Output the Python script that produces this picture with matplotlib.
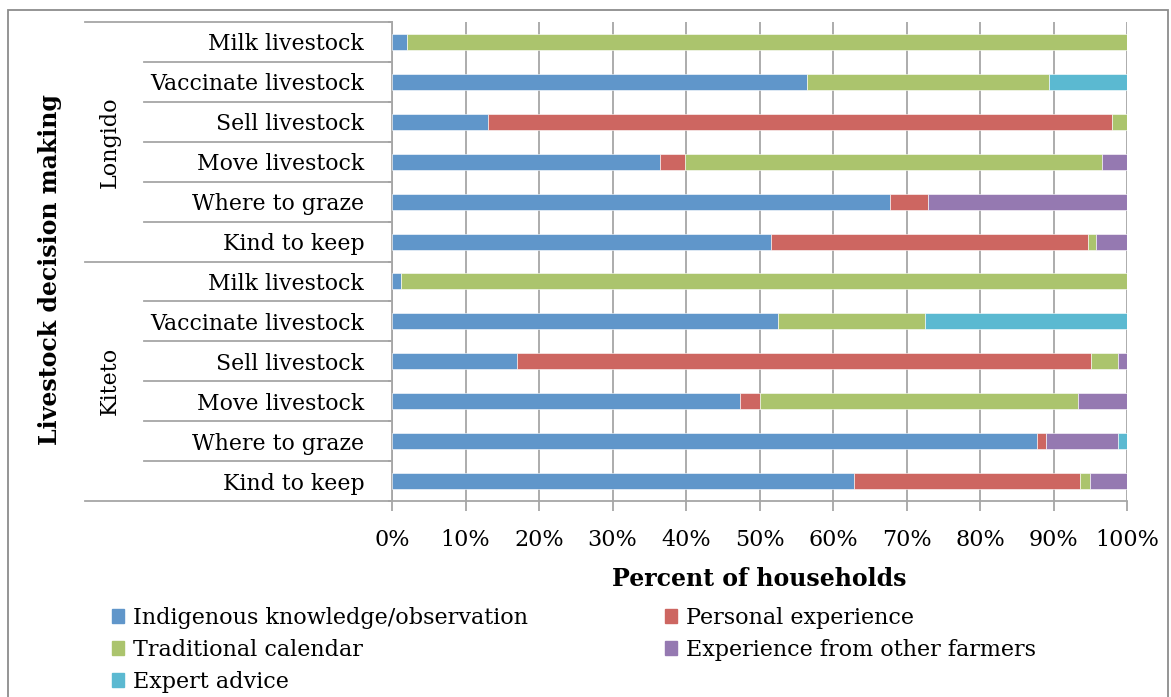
import numpy as np
import matplotlib
matplotlib.use("Agg")
import matplotlib.pyplot as plt
from matplotlib.patches import Patch, Rectangle

# category rows, top to bottom
groups = ["Longido", "Kiteto"]
decisions = ["Milk livestock", "Vaccinate livestock", "Sell livestock",
             "Move livestock", "Where to graze", "Kind to keep"]

series = ["Indigenous knowledge/observation", "Personal experience",
          "Traditional calendar", "Experience from other farmers", "Expert advice"]

# percent of households, rows follow groups x decisions (top to bottom)
indigenous = [2.0, 56.4, 13.1, 36.4, 67.7, 51.6,
              1.2, 52.5, 17.0, 47.4, 87.8, 62.9]
personal = [0.0, 0.0, 84.9, 3.4, 5.2, 43.1,
            0.0, 0.0, 78.1, 2.6, 1.2, 30.7]
traditional = [98.0, 33.0, 2.0, 56.8, 0.0, 1.1,
               98.8, 20.0, 3.7, 43.3, 0.0, 1.4]
other_farmers = [0.0, 0.0, 0.0, 3.4, 27.1, 4.2,
                 0.0, 0.0, 1.2, 6.7, 9.8, 5.0]
expert = [0.0, 10.6, 0.0, 0.0, 0.0, 0.0,
          0.0, 27.5, 0.0, 0.0, 1.2, 0.0]

colors = ["#6096CA", "#CD6661", "#ABC46D", "#9579B1", "#5BB9D1"]
grid_col = "#A6A6A6"
font = "DejaVu Serif"
plt.rcParams["font.family"] = font

fig = plt.figure(figsize=(11.71, 6.97), dpi=100)
W, H = 1171, 697
x0, x1, y0, y1 = 392, 1127, 22, 501
ax = fig.add_axes([x0 / W, 1 - y1 / H, (x1 - x0) / W, (y1 - y0) / H])

def axx(px):
    return (px - x0) / (x1 - x0)

n = len(groups) * len(decisions)
ypos = np.arange(n)
left = np.zeros(n)
for vals, col, name in zip([indigenous, personal, traditional, other_farmers, expert],
                           colors, series):
    vals = np.array(vals)
    ax.barh(ypos, vals, left=left, height=0.4, color=col, label=name,
            edgecolor="white", linewidth=0.4, zorder=3)
    left += vals

ax.set_xlim(0, 100)
ax.set_ylim(n - 0.5, -0.5)
ax.set_xticks(np.arange(0, 101, 10))
ax.set_xticklabels([f"{v}%" for v in range(0, 101, 10)], fontsize=16)
ax.grid(axis="x", color=grid_col, linewidth=1.3, zorder=0)
ax.set_axisbelow(True)
ax.tick_params(axis="x", direction="out", length=7, width=1.3, color=grid_col, pad=13)

ax.set_yticks(ypos)
ax.set_yticklabels(decisions * len(groups), fontsize=15.8)
ax.tick_params(axis="y", length=0, pad=20)
ax.set_yticks(np.arange(n + 1) - 0.5, minor=True)
ax.tick_params(axis="y", which="minor", length=3, width=1.3, color=grid_col)

for s in ["top", "right"]:
    ax.spines[s].set_visible(False)
for s in ["left", "bottom"]:
    ax.spines[s].set_color(grid_col)
    ax.spines[s].set_linewidth(1.3)

# multi-level category separators
tr = ax.get_yaxis_transform()
for i in range(n + 1):
    start = axx(85) if i % len(decisions) == 0 else axx(144)
    ax.plot([start, 0], [i - 0.5, i - 0.5], color=grid_col, lw=1.3,
            transform=tr, clip_on=False)

for g, name in enumerate(groups):
    yc = g * len(decisions) + (len(decisions) - 1) / 2
    ax.text(axx(110), yc, name, rotation=90, ha="center", va="center",
            fontsize=16, transform=tr)

fig.text(50 / W, 1 - 270 / H, "Livestock decision making", rotation=90,
         ha="center", va="center", fontsize=17, fontweight="bold")
fig.text(759 / W, 1 - 579 / H, "Percent of households", ha="center",
         va="center", fontsize=17, fontweight="bold")

# legend in two columns
h = [Patch(color=c) for c in colors]
leg_kw = dict(frameon=False, fontsize=16, handlelength=0.55, handleheight=0.55,
              handletextpad=0.4, labelspacing=0.45, borderaxespad=0, borderpad=0,
              loc="upper left")
leg1 = fig.legend([h[0], h[2], h[4]], [series[0], series[2], series[4]],
                  bbox_to_anchor=(112 / W, 1 - 607 / H), **leg_kw)
leg2 = fig.legend([h[1], h[3]], [series[1], series[3]],
                  bbox_to_anchor=(665 / W, 1 - 607 / H), **leg_kw)

# chart border
fig.add_artist(Rectangle((8 / W, -0.02), 1160 / W, 1.02 - 10 / H,
                         transform=fig.transFigure, fill=False,
                         edgecolor="#8C8C8C", linewidth=1.3))

fig.savefig("out.png", dpi=100)
